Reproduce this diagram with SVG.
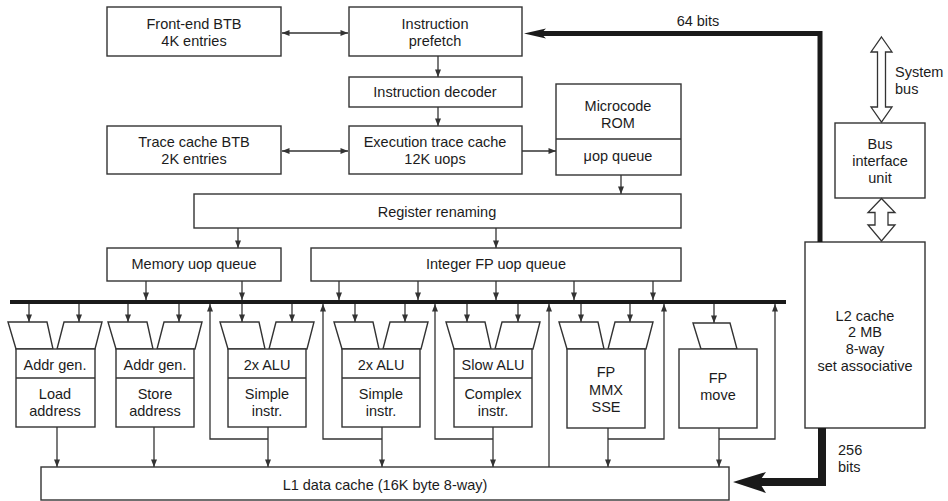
<svg xmlns="http://www.w3.org/2000/svg" width="948" height="501" viewBox="0 0 948 501">
<style>
.b{fill:#fff;stroke:#333;stroke-width:1.4}
.t{font-family:"Liberation Sans",Arial,Helvetica,sans-serif;font-size:14.5px;fill:#1c1c1c;text-anchor:middle}
.tl{font-family:"Liberation Sans",Arial,Helvetica,sans-serif;font-size:14.5px;fill:#1c1c1c}
.c{fill:none;stroke:#333;stroke-width:1.3}
.ca{fill:none;stroke:#333;stroke-width:1.3;marker-end:url(#a)}
.cd{fill:none;stroke:#333;stroke-width:1.3;marker-end:url(#a);marker-start:url(#a)}
.thick{fill:none;stroke:#1a1a1a}
.hollow{fill:#fff;stroke:#333;stroke-width:1.3}
</style>
<defs>
<marker id="a" viewBox="0 0 10 8" refX="10" refY="4" markerWidth="8" markerHeight="6" orient="auto-start-reverse" markerUnits="userSpaceOnUse">
<path d="M0,0 L10,4 L0,8 z" fill="#333"/>
</marker>
<g id="alu2">
<polygon class="b" points="-8,322 31,322 37,349 0,349"/>
<polygon class="b" points="48,322 86,322 79,349 41,349"/>
</g>
</defs>
<rect width="948" height="501" fill="#fff"/>

<g id="frontend-btb"><rect class="b" x="107" y="7" width="174" height="49"/><text class="t" x="194" y="29">Front-end BTB</text><text class="t" x="194" y="46">4K entries</text></g>
<g id="prefetch"><rect class="b" x="349" y="7" width="173" height="49"/><text class="t" x="435" y="29">Instruction</text><text class="t" x="435" y="46">prefetch</text></g>
<g id="decoder"><rect class="b" x="349" y="77" width="173" height="30"/><text class="t" x="435" y="97">Instruction decoder</text></g>
<g id="trace-btb"><rect class="b" x="107" y="126" width="174" height="48"/><text class="t" x="194" y="147">Trace cache BTB</text><text class="t" x="194" y="164">2K entries</text></g>
<g id="exec-trace"><rect class="b" x="349" y="126" width="173" height="48"/><text class="t" x="435" y="147">Execution trace cache</text><text class="t" x="435" y="164">12K uops</text></g>
<g id="microcode"><rect class="b" x="556" y="84" width="125" height="91"/><line class="c" x1="556" y1="139" x2="681" y2="139"/><text class="t" x="618" y="111">Microcode</text><text class="t" x="618" y="128">ROM</text><text class="t" x="618" y="161">μop queue</text></g>
<g id="renaming"><rect class="b" x="194" y="194" width="487" height="34"/><text class="t" x="437" y="217">Register renaming</text></g>
<g id="mem-queue"><rect class="b" x="107" y="248" width="174" height="33"/><text class="t" x="194" y="269">Memory uop queue</text></g>
<g id="int-queue"><rect class="b" x="311" y="248" width="370" height="33"/><text class="t" x="496" y="269">Integer FP uop queue</text></g>

<g id="bus"><rect x="10" y="300" width="776" height="4" fill="#1a1a1a"/></g>

<g id="load-unit"><use href="#alu2" transform="translate(16,0)"/><rect class="b" x="16" y="349" width="79" height="78"/><line class="c" x1="16" y1="378" x2="95" y2="378"/><text class="t" x="55" y="370">Addr gen.</text><text class="t" x="55" y="399">Load</text><text class="t" x="55" y="416">address</text></g>
<g id="store-unit"><use href="#alu2" transform="translate(116,0)"/><rect class="b" x="116" y="349" width="78" height="78"/><line class="c" x1="116" y1="378" x2="194" y2="378"/><text class="t" x="155" y="370">Addr gen.</text><text class="t" x="155" y="399">Store</text><text class="t" x="155" y="416">address</text></g>
<g id="alu1-unit"><use href="#alu2" transform="translate(228,0)"/><rect class="b" x="228" y="349" width="78" height="78"/><line class="c" x1="228" y1="378" x2="306" y2="378"/><text class="t" x="267" y="370">2x ALU</text><text class="t" x="267" y="399">Simple</text><text class="t" x="267" y="416">instr.</text></g>
<g id="alu2-unit"><use href="#alu2" transform="translate(342,0)"/><rect class="b" x="342" y="349" width="78" height="78"/><line class="c" x1="342" y1="378" x2="420" y2="378"/><text class="t" x="381" y="370">2x ALU</text><text class="t" x="381" y="399">Simple</text><text class="t" x="381" y="416">instr.</text></g>
<g id="slow-alu-unit"><use href="#alu2" transform="translate(454,0)"/><rect class="b" x="454" y="349" width="78" height="78"/><line class="c" x1="454" y1="378" x2="532" y2="378"/><text class="t" x="493" y="370">Slow ALU</text><text class="t" x="493" y="399">Complex</text><text class="t" x="493" y="416">instr.</text></g>
<g id="fp-unit"><use href="#alu2" transform="translate(567,0)"/><rect class="b" x="567" y="349" width="78" height="79"/><text class="t" x="606" y="377">FP</text><text class="t" x="606" y="395">MMX</text><text class="t" x="606" y="412">SSE</text></g>
<g id="fp-move-unit"><polygon class="b" points="693,323 730,323 737,349 701,349"/><rect class="b" x="679" y="349" width="78" height="79"/><text class="t" x="718" y="383">FP</text><text class="t" x="718" y="400">move</text></g>

<g id="l1"><rect class="b" x="41" y="467" width="688" height="33"/><text class="t" x="385" y="490">L1 data cache (16K byte 8-way)</text></g>
<g id="biu"><rect class="b" x="835" y="123" width="90" height="75"/><text class="t" x="880" y="149">Bus</text><text class="t" x="880" y="166">interface</text><text class="t" x="880" y="183">unit</text></g>
<g id="l2"><rect class="b" x="805" y="242" width="120" height="186"/><text class="t" x="865" y="321">L2 cache</text><text class="t" x="865" y="337">2 MB</text><text class="t" x="865" y="354">8-way</text><text class="t" x="865" y="371">set associative</text></g>

<g id="connectors">
<line class="cd" x1="282" y1="33" x2="348" y2="33"/>
<line class="cd" x1="282" y1="151" x2="348" y2="151"/>
<line class="ca" x1="438" y1="56" x2="438" y2="77"/>
<line class="ca" x1="438" y1="107" x2="438" y2="126"/>
<line class="ca" x1="522" y1="151" x2="556" y2="151"/>
<line class="ca" x1="621" y1="175" x2="621" y2="194"/>
<line class="ca" x1="238" y1="228" x2="238" y2="248"/>
<line class="ca" x1="496" y1="228" x2="496" y2="248"/>
<line class="ca" x1="146" y1="281" x2="146" y2="300"/>
<line class="ca" x1="242" y1="281" x2="242" y2="300"/>
<line class="ca" x1="339" y1="281" x2="339" y2="300"/>
<line class="ca" x1="418" y1="281" x2="418" y2="300"/>
<line class="ca" x1="496" y1="281" x2="496" y2="300"/>
<line class="ca" x1="574" y1="281" x2="574" y2="300"/>
<line class="ca" x1="653" y1="281" x2="653" y2="300"/>

<line class="ca" x1="29" y1="304" x2="29" y2="322"/>
<line class="ca" x1="79" y1="304" x2="79" y2="322"/>
<line class="ca" x1="128" y1="304" x2="128" y2="322"/>
<line class="ca" x1="179" y1="304" x2="179" y2="322"/>
<line class="ca" x1="242" y1="304" x2="242" y2="322"/>
<line class="ca" x1="292" y1="304" x2="292" y2="322"/>
<line class="ca" x1="355" y1="304" x2="355" y2="322"/>
<line class="ca" x1="405" y1="304" x2="405" y2="322"/>
<line class="ca" x1="467" y1="304" x2="467" y2="322"/>
<line class="ca" x1="518" y1="304" x2="518" y2="322"/>
<line class="ca" x1="581" y1="304" x2="581" y2="322"/>
<line class="ca" x1="630" y1="304" x2="630" y2="322"/>
<line class="ca" x1="714" y1="304" x2="714" y2="323"/>

<line class="ca" x1="57" y1="427" x2="57" y2="467"/>
<line class="ca" x1="154" y1="427" x2="154" y2="467"/>
<line class="ca" x1="268" y1="427" x2="268" y2="467"/>
<line class="ca" x1="382" y1="427" x2="382" y2="467"/>
<line class="ca" x1="493" y1="427" x2="493" y2="467"/>
<line class="ca" x1="608" y1="428" x2="608" y2="467"/>
<line class="ca" x1="719" y1="428" x2="719" y2="467"/>

<polyline class="ca" points="268,439 210,439 210,304"/>
<polyline class="ca" points="382,439 323,439 323,304"/>
<polyline class="ca" points="493,439 435,439 435,304"/>
<line class="ca" x1="549" y1="467" x2="549" y2="304"/>
<polyline class="ca" points="608,439 664,439 664,304"/>
<polyline class="ca" points="719,439 775,439 775,304"/>

<polyline class="thick" stroke-width="5" points="820,242 820,33.5 540,33.5"/>
<path d="M524,33.5 L546,28.5 L541,33.5 L546,38.5 Z" fill="#1a1a1a"/>
<polyline class="thick" stroke-width="8" points="822,428 822,482 758,482"/>
<path d="M733,482 L766,472 L759,482 L766,493 Z" fill="#1a1a1a"/>

<path class="hollow" d="M881.5,37 L892,52 L885.5,52 L885.5,107 L892,107 L881.5,122 L871,107 L877.5,107 L877.5,52 L871,52 Z"/>
<path class="hollow" d="M881.5,198.5 L895,212.5 L888,212.5 L888,225 L895,225 L881.5,241 L868,225 L875,225 L875,212.5 L868,212.5 Z"/>
</g>

<g id="labels">
<text class="t" x="698" y="26">64 bits</text>
<text class="tl" x="895" y="77">System</text>
<text class="tl" x="895" y="94">bus</text>
<text class="tl" x="838" y="455">256</text>
<text class="tl" x="838" y="472">bits</text>
</g>
</svg>
